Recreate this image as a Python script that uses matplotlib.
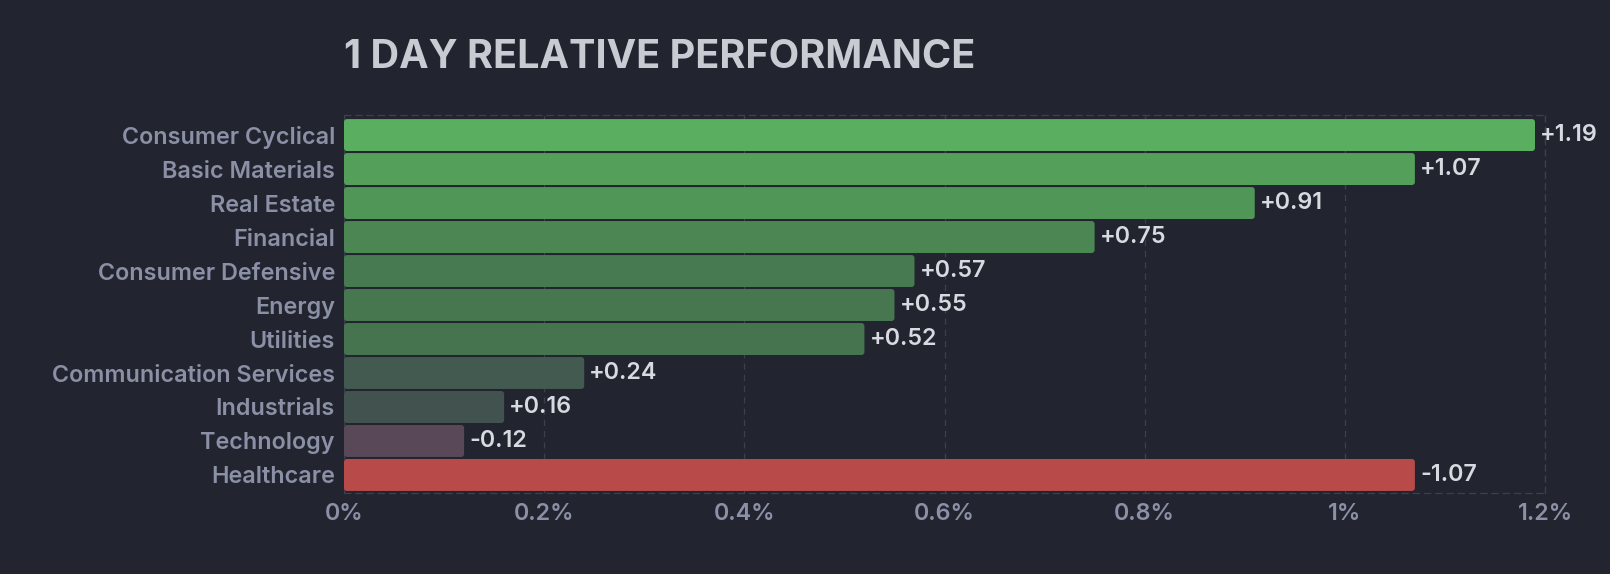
import matplotlib.pyplot as plt
from matplotlib.patches import FancyBboxPatch
from matplotlib.ticker import FuncFormatter

sectors = ["Consumer Cyclical", "Basic Materials", "Real Estate", "Financial",
           "Consumer Defensive", "Energy", "Utilities", "Communication Services",
           "Industrials", "Technology", "Healthcare"]
changes = [1.19, 1.07, 0.91, 0.75, 0.57, 0.55, 0.52, 0.24, 0.16, -0.12, -1.07]
bar_colors = ["#5aae5f", "#549f5a", "#509657", "#4b8653", "#477a51", "#47774f",
              "#46744f", "#435a50", "#42534f", "#584858", "#b94a4a"]
xticks = [0, 0.2, 0.4, 0.6, 0.8, 1.0, 1.2]

BG = "#22252f"
GRID = "#3c404c"

plt.rcParams['font.family'] = ['Inter', 'DejaVu Sans']

fig = plt.figure(figsize=(16.1, 5.74), dpi=100, facecolor=BG)
ax = fig.add_axes([344 / 1610, 1 - 493 / 574, (1545 - 344) / 1610, (493 - 115) / 574])
ax.set_facecolor(BG)

ypos = list(range(len(sectors)))
bars = ax.barh(ypos, [abs(v) for v in changes], height=0.94, color=bar_colors, zorder=3)

ax.set_xlim(0, 1.2)
ax.set_ylim(10.53, -0.59)

# swap plain bars for rounded ones
fig.canvas.draw()
px_x = ax.transData.inverted().transform([(0, 0), (1, 0)])
px_y = ax.transData.inverted().transform([(0, 0), (0, 1)])
dx = abs(px_x[1][0] - px_x[0][0])
dy = abs(px_y[1][1] - px_y[0][1])
for b in bars:
    x0, y0 = b.get_x(), b.get_y()
    w, h = b.get_width(), b.get_height()
    rb = FancyBboxPatch((x0, y0), w, h, boxstyle=f"round,pad=0,rounding_size={3 * dx}",
                        mutation_aspect=dy / dx, facecolor=b.get_facecolor(),
                        edgecolor="none", zorder=3)
    b.remove()
    ax.add_patch(rb)

for y, v in zip(ypos, changes):
    ax.text(abs(v) + 5 * dx, y, f"{v:+.2f}", va="center", ha="left",
            fontsize=16.8, color="#d8dae1", fontweight="semibold", zorder=4)

ax.set_xticks(xticks)
ax.xaxis.set_major_formatter(FuncFormatter(lambda v, p: f"{v:g}%"))
ax.set_yticks(ypos)
ax.set_yticklabels(sectors)
ax.tick_params(axis="both", length=0, colors="#8b90a6", labelsize=16.8)
ax.tick_params(axis="y", pad=6.5)
ax.tick_params(axis="x", pad=7)
for lab in ax.get_xticklabels() + ax.get_yticklabels():
    lab.set_fontweight("semibold")

ax.grid(axis="x", color=GRID, linestyle=(0, (5, 4)), linewidth=0.9, zorder=1)
for side in ["top", "right", "bottom"]:
    ax.spines[side].set_color(GRID)
    ax.spines[side].set_linestyle((0, (5, 4)))
    ax.spines[side].set_linewidth(0.9)
ax.spines["left"].set_visible(False)

fig.text(344 / 1610, 1 - 58 / 574, "1 DAY RELATIVE PERFORMANCE", fontsize=28.5,
         fontweight="bold", color="#c9cbd3", va="center", ha="left")

fig.savefig("out.png", dpi=100, facecolor=BG)
